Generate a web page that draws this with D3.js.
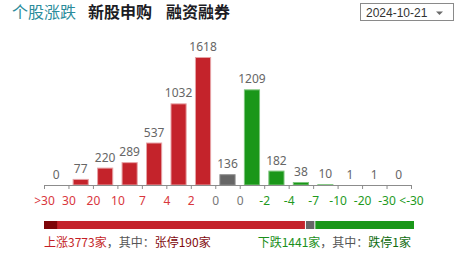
<!DOCTYPE html>
<html>
<head>
<meta charset="utf-8">
<script src="https://cdn.jsdelivr.net/npm/d3@7"></script>
<style>
  body { margin: 0; background: #fff; }
  svg { display: block; }
</style>
</head>
<body>
<div id="chart"></div>
<script>
// bins: >30 .. <-30, one value per bin
const tickLabels = ['>30', '30', '20', '10', '7', '4', '2', '0', '0', '-2', '-4', '-7', '-10', '-20', '-30', '<-30'];
const counts = [0, 77, 220, 289, 537, 1032, 1618, 136, 1209, 182, 38, 10, 1, 1, 0];
const tabs = ['个股涨跌', '新股申购', '融资融券'];
const dateLabel = '2024-10-21';
// up / flat / down, limit up / limit down
const summary = [3773, 136, 1441];
const limits = [190, 1];

const W = 455, H = 263;
const red = '#c4232b', green = '#1a9719', gray = '#666666';
const cjk = '"Noto Sans CJK SC", "Noto Sans", sans-serif';
const num = '"Noto Sans", "Noto Sans CJK SC", sans-serif';

const svg = d3.select('#chart').append('svg')
  .attr('width', W).attr('height', H);

// header tabs
const tabX = [12, 88, 166];
svg.selectAll('.tab')
  .data(tabs)
  .enter()
  .append('text')
  .attr('class', 'tab')
  .attr('x', (d, i) => tabX[i])
  .attr('y', 18)
  .style('font-family', cjk)
  .style('font-size', '16px')
  .style('font-weight', (d, i) => i === 0 ? 'normal' : 'bold')
  .attr('fill', (d, i) => i === 0 ? '#2b8c9b' : '#1c1c24')
  .text(d => d);

// date select box
svg.append('rect')
  .attr('x', 360.5).attr('y', 3.5)
  .attr('width', 93).attr('height', 17)
  .attr('fill', '#fff').attr('stroke', '#8a8a8a');
svg.append('text')
  .attr('x', 366).attr('y', 16.5)
  .style('font-family', '"Liberation Sans", Arial, sans-serif')
  .style('font-size', '12px')
  .attr('fill', '#333')
  .text(dateLabel);
svg.append('path')
  .attr('d', 'M436,11.5 L443,11.5 L439.5,15 Z')
  .attr('fill', '#6a6a6a');

// scales
const x0 = 44, x1 = 411, baseY = 185;
const edge = d3.scaleLinear().domain([0, counts.length]).range([x0, x1]);
const x = d3.scaleBand()
  .domain(d3.range(counts.length))
  .range([x0, x1])
  .paddingInner(0.34)
  .paddingOuter(0.17);
const y = d3.scaleLinear()
  .domain([0, d3.max(counts)])
  .range([baseY, 57]);

const barColor = i => i < 7 ? red : (i === 7 ? gray : green);
const barEdge = i => i < 7 ? '#e7a3a6' : (i === 7 ? '#8a8a8a' : '#7cc57b');
const tickColor = i => i < 7 ? '#d9363d' : (i < 9 ? '#777' : '#1f9a1e');

// bars
svg.selectAll('.bar')
  .data(counts)
  .enter()
  .append('rect')
  .attr('class', 'bar')
  .attr('x', (d, i) => x(i) + 0.5)
  .attr('y', d => y(d) + 0.5)
  .attr('width', x.bandwidth() - 1)
  .attr('height', d => Math.max(0, baseY - y(d) - 0.5))
  .attr('fill', (d, i) => barColor(i))
  .attr('stroke', (d, i) => d > 0 ? barEdge(i) : 'none')
  .attr('stroke-width', 1);

// value labels
svg.selectAll('.bar-label')
  .data(counts)
  .enter()
  .append('text')
  .attr('class', 'bar-label')
  .attr('x', (d, i) => x(i) + x.bandwidth() / 2)
  .attr('y', d => y(d) - 6)
  .attr('text-anchor', 'middle')
  .style('font-family', num)
  .style('font-size', '12px')
  .attr('fill', '#666')
  .text(d => d);

// x axis with labels on bin edges
const axis = svg.append('g')
  .attr('transform', `translate(0,${baseY})`)
  .call(d3.axisBottom(edge)
    .tickValues(d3.range(tickLabels.length))
    .tickFormat(i => tickLabels[i])
    .tickSize(4)
    .tickSizeOuter(0)
    .tickPadding(7));
axis.select('.domain').attr('stroke', '#8c8c8c');
axis.selectAll('.tick line').attr('stroke', '#8c8c8c');
axis.selectAll('.tick text')
  .style('font-family', num)
  .style('font-size', '12px')
  .attr('fill', i => tickColor(i));

// proportion bar
const total = d3.sum(summary);
const share = d3.scaleLinear().domain([0, total]).range([x0, 414]);
const starts = [0, summary[0], summary[0] + summary[1]];
const segColors = [red, gray, green];
svg.selectAll('.seg')
  .data(summary)
  .enter()
  .append('rect')
  .attr('class', 'seg')
  .attr('x', (d, i) => share(starts[i]) + (i > 0 ? 1 : 0))
  .attr('y', 221)
  .attr('width', (d, i) => share(starts[i] + d) - share(starts[i]) - (i > 0 ? 1 : 0))
  .attr('height', 8)
  .attr('fill', (d, i) => segColors[i]);
svg.append('rect')
  .attr('x', share(0)).attr('y', 221)
  .attr('width', share(limits[0]) - share(0)).attr('height', 8)
  .attr('fill', '#7d0508');

// summary texts
const left = svg.append('text')
  .attr('x', x0).attr('y', 247)
  .style('font-family', cjk)
  .style('font-size', '12px');
left.append('tspan').attr('fill', '#c41e25').text(`上涨${summary[0]}家`);
left.append('tspan').attr('fill', '#555').text('，其中：');
left.append('tspan').attr('fill', '#820a0d').text(`张停${limits[0]}家`);

const right = svg.append('text')
  .attr('x', 411).attr('y', 247)
  .attr('text-anchor', 'end')
  .style('font-family', cjk)
  .style('font-size', '12px');
right.append('tspan').attr('fill', '#1a8f1a').text(`下跌${summary[2]}家`);
right.append('tspan').attr('fill', '#555').text('，其中：');
right.append('tspan').attr('fill', '#0e6b0e').text(`跌停${limits[1]}家`);
</script>
</body>
</html>
